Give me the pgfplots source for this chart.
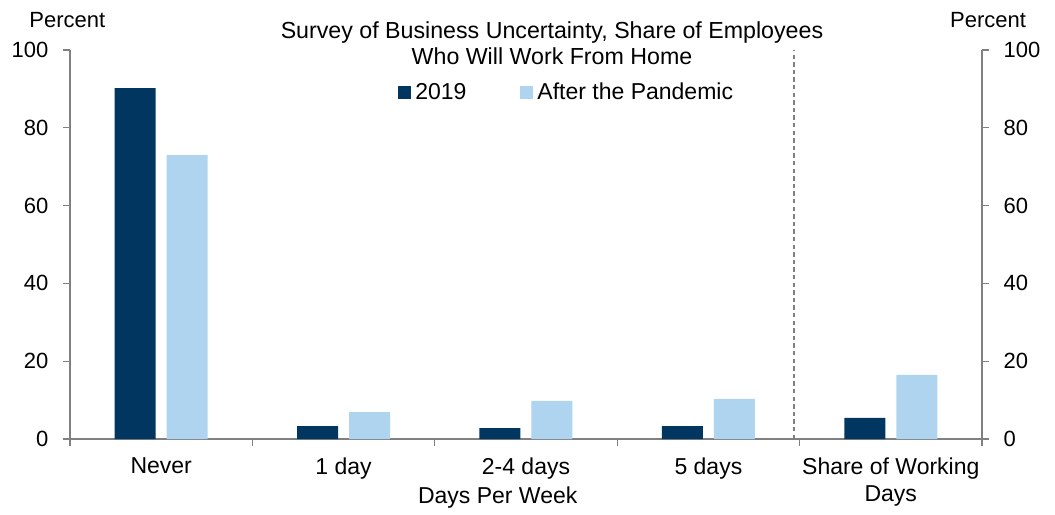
\documentclass[border=0pt]{standalone}
\usepackage{pgfplots}
\pgfplotsset{compat=1.18}
\usepackage{fontspec}
\setmainfont{Liberation Sans}
\definecolor{navy}{RGB}{0,54,96}
\definecolor{lblue}{RGB}{174,212,240}
\definecolor{axgray}{RGB}{128,128,128}
\begin{document}
\fontsize{11bp}{13bp}\selectfont
\begin{tikzpicture}
\pgfplotsset{
  common/.style={
    scale only axis, width=456bp, height=194.5bp,
    at={(0,0)}, anchor=south west, clip=false,
    xmin=-0.5, xmax=4.5, ymin=0, ymax=100,
    ytick={0,20,...,100},
    /pgf/number format/assume math mode=true,
    tick style={axgray, line width=0.7pt},
    axis line style={axgray, line width=0.8pt},
    tick align=outside, major tick length=3.5bp,
    tick label style={font=\fontsize{11bp}{13bp}\selectfont},
  },
}
\begin{axis}[common,
  ybar=5.5bp, bar width=20.5bp,
  axis x line*=bottom, axis y line*=left,
  yticklabel style={xshift=-3.5bp},
  xtick={-0.5,0.5,...,4.5}, xticklabels={},
  extra x ticks={0,1,2,3,4},
  extra x tick labels={Never,1 day,2-4 days,5 days,{Share of Working\\Days}},
  extra x tick style={major tick length=0pt,
    xticklabel style={align=center, anchor=north, yshift=-5.5bp,
      font=\fontsize{11.5bp}{13.5bp}\selectfont}},
  legend style={at={(rel axis cs:0.3596,0.8895)}, anchor=west, draw=none, fill=none,
    legend columns=2, inner sep=0pt,
    font=\fontsize{11.5bp}{13bp}\selectfont,
    /tikz/every even column/.append style={column sep=25bp}},
  legend cell align=left,
  legend image code/.code={\fill[#1] (0bp,-3.25bp) rectangle (6.5bp,3.25bp);},
]
\addplot[fill=navy, draw=none] coordinates {(0,90.2) (1,3.3) (2,2.8) (3,3.3) (4,5.4)};
\addlegendentry{2019}
\addplot[fill=lblue, draw=none] coordinates {(0,73.0) (1,6.9) (2,9.8) (3,10.3) (4,16.5)};
\addlegendentry{After the Pandemic}
\draw[axgray, line width=1pt, dash pattern=on 2.2bp off 1.6bp] (axis cs:3.47,0) -- (axis cs:3.47,100);
\node[align=center, font=\fontsize{11.6bp}{13bp}\selectfont] at ([yshift=3.5bp]rel axis cs:0.5285,1)
  {Survey of Business Uncertainty, Share of Employees\\Who Will Work From Home};
\node at ([yshift=15bp]rel axis cs:-0.003,1) {Percent};
\node at ([yshift=15bp]rel axis cs:1.0066,1) {Percent};
\node[font=\fontsize{11.5bp}{13bp}\selectfont] at ([yshift=-29.5bp]rel axis cs:0.469,0) {Days Per Week};
\end{axis}
\begin{axis}[common,
  axis x line=none, axis y line*=right,
  yticklabel style={xshift=3.5bp},
]
\addplot[draw=none] coordinates {(0,0)};
\end{axis}
\pgfresetboundingbox
\path[use as bounding box] (-35bp,-38bp) rectangle (492.5bp,219.5bp);
\end{tikzpicture}
\end{document}
